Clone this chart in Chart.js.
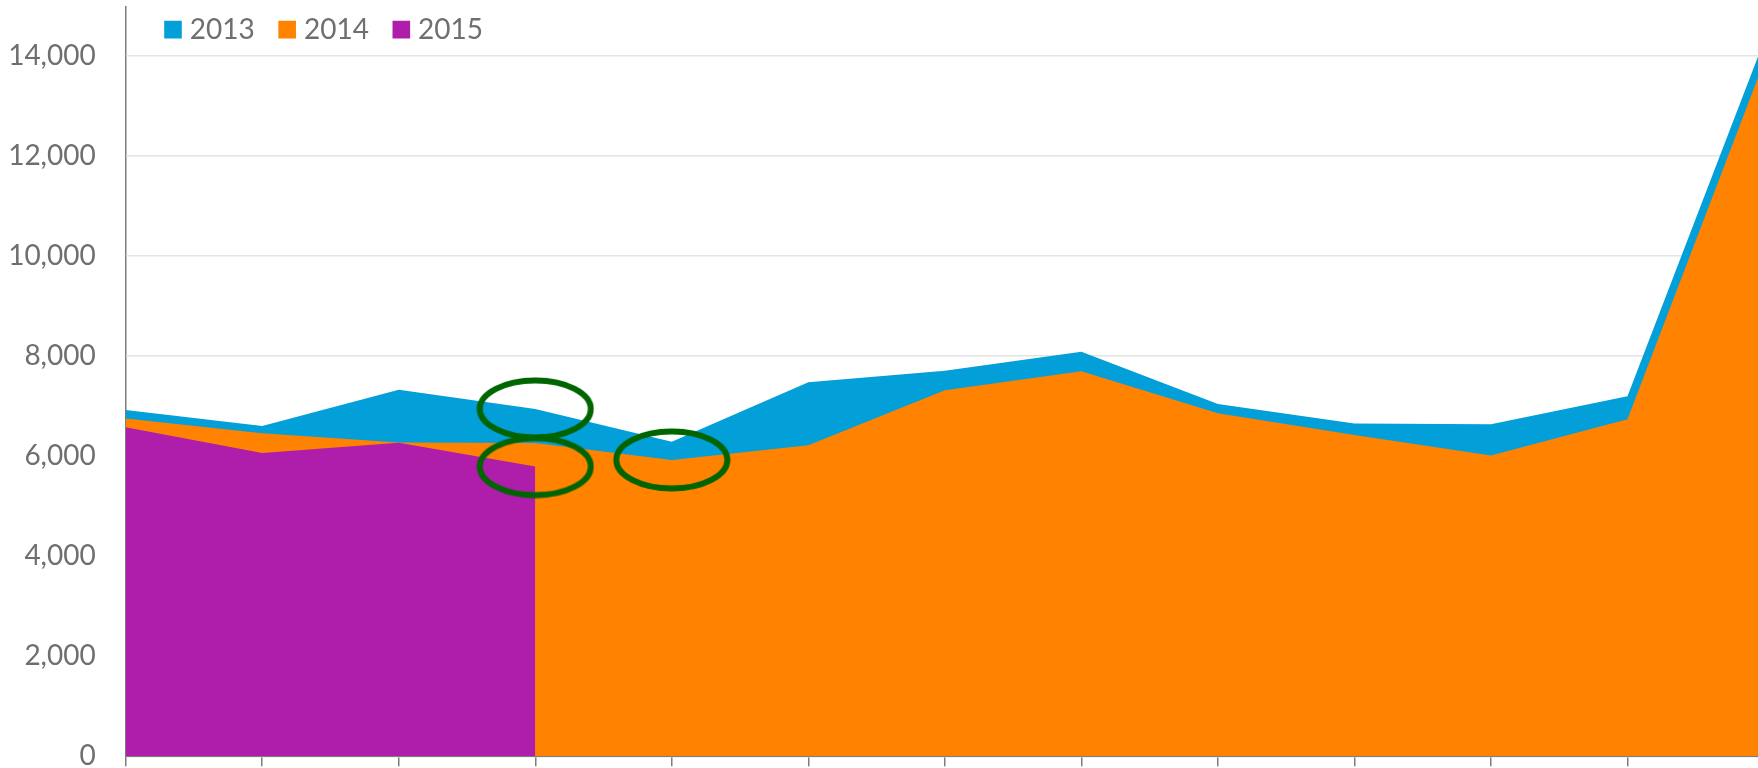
<!DOCTYPE html>
<html>
<head>
<meta charset="utf-8">
<script src="https://cdn.jsdelivr.net/npm/chart.js@4.4.1/dist/chart.umd.min.js"></script>
<style>
  html, body { margin: 0; padding: 0; background: #ffffff; overflow: hidden; width: 1758px; height: 768px; }
  #wrap { position: relative; width: 1764px; height: 768px; }
</style>
</head>
<body>
<div id="wrap"><canvas id="chart"></canvas></div>
<script>
// ---- data ----
const categories = ['1', '2', '3', '4', '5', '6', '7', '8', '9', '10', '11', '12', '13'];
const seriesNames = ['2013', '2014', '2015'];
const values2013 = [6925, 6605, 7330, 6945, 6290, 7478, 7710, 8090, 7044, 6651, 6640, 7200, 14300];
const values2014 = [6751, 6459, 6272, 6262, 5925, 6219, 7318, 7697, 6858, 6425, 6012, 6739, 13880];
const values2015 = [6578, 6065, 6266, 5792, null, null, null, null, null, null, null, null, null];
const yTickValues = [0, 2000, 4000, 6000, 8000, 10000, 12000, 14000];
const yTickLabels = ['0', '2,000', '4,000', '6,000', '8,000', '10,000', '12,000', '14,000'];
// highlighted points (series index, category index)
const highlightSeries = [0, 2, 1];
const highlightIndex = [3, 3, 4];

// ---- styles ----
const colors = ['#039FD9', '#FF8200', '#AF1EAA'];
const textGrey = '#6f6f72';
const axisGrey = '#7d7d7d';
const gridGrey = '#e4e4e4';
const FONT = 'Lato';

function makeEllipse(w, h, lw, color) {
  const c = document.createElement('canvas');
  c.width = w; c.height = h;
  const g = c.getContext('2d');
  g.strokeStyle = color;
  g.lineWidth = lw;
  g.beginPath();
  g.ellipse(w / 2, h / 2, w / 2 - lw / 2 - 0.5, h / 2 - lw / 2 - 0.5, 0, 0, Math.PI * 2);
  g.stroke();
  return c;
}

const legendOverlay = {
  id: 'legendOverlay',
  beforeLayout(chart) {
    const lg = chart.legend;
    if (lg && !lg.__patched) {
      const orig = lg.fit;
      lg.fit = function () { orig.call(this); this.height = 0; };
      lg.__patched = true;
    }
  },
  afterLayout(chart) {
    const lg = chart.legend;
    if (lg) {
      lg.left = 140.6;
      lg.top = -14.0;
      lg.bottom = 60;
      lg.height = lg.bottom - lg.top;
    }
  }
};

function draw() {
  const seriesValues = [values2013, values2014, values2015];
  const datasets = seriesNames.map((name, i) => ({
    label: name,
    data: seriesValues[i],
    backgroundColor: colors[i],
    borderColor: colors[i],
    borderWidth: 0,
    fill: 'origin',
    pointRadius: 0,
    pointHoverRadius: 0,
    tension: 0,
    order: 3 - i
  }));
  datasets.push({
    label: 'highlight',
    data: highlightSeries.map((s, k) => ({ x: categories[highlightIndex[k]], y: seriesValues[s][highlightIndex[k]] })),
    showLine: false,
    fill: false,
    pointStyle: makeEllipse(118, 64, 6, '#006400'),
    pointRadius: 1,
    pointHoverRadius: 1,
    order: 0
  });

  new Chart(document.getElementById('chart'), {
    type: 'line',
    data: { labels: categories, datasets },
    plugins: [legendOverlay],
    options: {
      responsive: true,
      maintainAspectRatio: false,
      animation: false,
      events: [],
      layout: { autoPadding: false, padding: { top: 6, right: 0, bottom: 0, left: 0 } },
      plugins: {
        tooltip: { enabled: false },
        legend: {
          display: true,
          position: 'top',
          align: 'start',
          labels: {
            boxWidth: 5.6,
            boxHeight: 5.6,
            padding: 29.6,
            color: textGrey,
            font: { family: FONT, size: 28 },
            filter: item => item.datasetIndex < 3,
            sort: (a, b) => a.datasetIndex - b.datasetIndex,
            generateLabels: chart => Chart.defaults.plugins.legend.labels.generateLabels(chart).map(l =>
              Object.assign(l, { lineWidth: 12, strokeStyle: l.fillStyle, lineJoin: 'miter', lineCap: 'butt', lineDash: [] }))
          }
        }
      },
      scales: {
        x: {
          type: 'category',
          offset: false,
          z: 1,
          grid: {
            drawOnChartArea: true,
            color: c => (c.index === 0 ? axisGrey : 'rgba(0,0,0,0)'),
            lineWidth: 1.5,
            drawTicks: true,
            tickLength: 10,
            tickColor: axisGrey,
            tickWidth: 1.5
          },
          border: { display: true, color: axisGrey, width: 2 },
          ticks: { display: false },
          afterFit: s => { s.height = 11.7; s.paddingLeft = 0; s.paddingRight = 0; }
        },
        y: {
          min: 0,
          max: 15000,
          bounds: 'data',
          afterBuildTicks: s => { s.ticks = yTickValues.map(v => ({ value: v })); },
          ticks: {
            padding: 30,
            color: textGrey,
            font: { family: FONT, size: 28 },
            callback: (v, i) => yTickLabels[i]
          },
          grid: { color: gridGrey, lineWidth: 1.5, drawTicks: false },
          border: { display: false },
          afterFit: s => { s.width = 125.7; s.paddingTop = 0; s.paddingBottom = 0; }
        }
      }
    }
  });
}

if (document.fonts && document.fonts.load) {
  document.fonts.load('28px ' + FONT).then(draw, draw);
} else {
  draw();
}
</script>
</body>
</html>
